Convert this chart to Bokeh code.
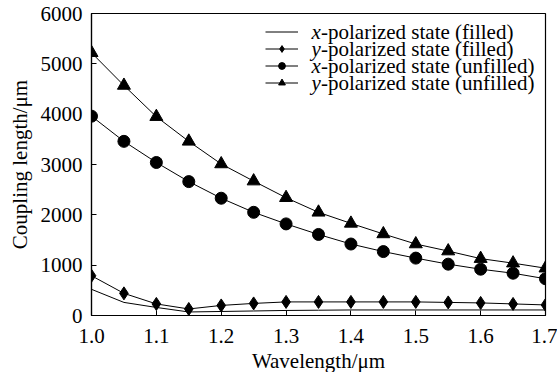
from bokeh.plotting import figure
from bokeh.models import Legend, LegendItem, FixedTicker, NumeralTickFormatter, Range1d, Label
from bokeh.embed import file_html
from bokeh.resources import INLINE

wavelength = [1.0, 1.05, 1.1, 1.15, 1.2, 1.25, 1.3, 1.35, 1.4, 1.45, 1.5, 1.55, 1.6, 1.65, 1.7]
x_filled = [520, 260, 160, 70, 80, 90, 100, 105, 110, 110, 110, 110, 110, 110, 110]
y_filled = [790, 440, 230, 130, 200, 240, 270, 270, 270, 270, 270, 260, 250, 230, 210]
x_unfilled = [3960, 3460, 3040, 2660, 2330, 2050, 1820, 1610, 1420, 1270, 1140, 1020, 920, 840, 730]
y_unfilled = [5220, 4570, 3950, 3460, 3010, 2670, 2340, 2050, 1830, 1620, 1420, 1280, 1130, 1040, 940]

x_ticks = [1.0, 1.1, 1.2, 1.3, 1.4, 1.5, 1.6, 1.7]
y_ticks = [0, 1000, 2000, 3000, 4000, 5000, 6000]

legend_vars = ["x", "y", "x", "y"]
legend_rest = ["-polarized state (filled)", "-polarized state (filled)",
               "-polarized state (unfilled)", "-polarized state (unfilled)"]

FONT = "Liberation Serif"
FS = "21px"

p = figure(frame_width=454, frame_height=302, output_backend="svg", toolbar_location=None,
           x_range=Range1d(1.0, 1.7), y_range=Range1d(0, 6000),
           min_border_left=91, min_border_right=12, min_border_top=13, min_border_bottom=57)
p.width = 557
p.height = 372
p.grid.visible = False
p.outline_line_color = "black"
p.outline_line_width = 1.2
p.background_fill_color = "white"
p.border_fill_color = "white"

for ax in (p.xaxis[0], p.yaxis[0]):
    ax.major_tick_in = 5
    ax.major_tick_out = 0
    ax.minor_tick_in = 0
    ax.minor_tick_out = 0
    ax.axis_line_color = "black"
    ax.axis_line_width = 1.2
    ax.major_tick_line_color = "black"
    ax.major_label_text_font = FONT
    ax.major_label_text_font_size = FS
    ax.major_label_text_color = "black"
    ax.axis_label_text_font = FONT
    ax.axis_label_text_font_size = FS
    ax.axis_label_text_font_style = "normal"
    ax.axis_label_text_color = "black"

p.xaxis.ticker = FixedTicker(ticks=x_ticks)
p.xaxis.formatter = NumeralTickFormatter(format="0.0")
p.yaxis.ticker = FixedTicker(ticks=y_ticks)
p.xaxis.axis_label = "Wavelength/μm"
p.yaxis.axis_label = "Coupling length/μm"
p.xaxis.major_label_standoff = 13
p.yaxis.major_label_standoff = 9
p.xaxis.axis_label_standoff = 3
p.yaxis.axis_label_standoff = 6

r1 = p.line(wavelength, x_filled, line_color="black", line_width=1)
r2l = p.line(wavelength, y_filled, line_color="black", line_width=1)
r2m = p.scatter(wavelength, y_filled, marker="diamond", size=13, color="black")
r3l = p.line(wavelength, x_unfilled, line_color="black", line_width=1)
r3m = p.scatter(wavelength, x_unfilled, marker="circle", size=12, color="black")
r4l = p.line(wavelength, y_unfilled, line_color="black", line_width=1)
r4m = p.scatter(wavelength, y_unfilled, marker="triangle", size=13, color="black")

# legend samples (glyphs only); texts are drawn as labels so that x / y can be italic
legend = Legend(items=[
    LegendItem(label=" ", renderers=[r1]),
    LegendItem(label=" ", renderers=[r2l, r2m]),
    LegendItem(label=" ", renderers=[r3l, r3m]),
    LegendItem(label=" ", renderers=[r4l, r4m]),
], location=(174, 224))
legend.border_line_color = None
legend.background_fill_alpha = 0
legend.label_text_font_size = "1px"
legend.glyph_width = 33
legend.glyph_height = 17
legend.label_height = 17
legend.label_width = 1
legend.spacing = 0
legend.padding = 0
legend.margin = 0
legend.label_standoff = 0
p.add_layout(legend)

row_y = [284, 267, 250, 233]
for v, rest, yy in zip(legend_vars, legend_rest, row_y):
    p.add_layout(Label(x=220, y=yy, x_units="screen", y_units="screen", text=v,
                       text_font=FONT, text_font_size=FS, text_font_style="italic",
                       text_baseline="middle", text_color="black"))
    p.add_layout(Label(x=229.5, y=yy, x_units="screen", y_units="screen", text=rest,
                       text_font=FONT, text_font_size=FS,
                       text_baseline="middle", text_color="black"))

open("out.html", "w").write(file_html(p, INLINE))
